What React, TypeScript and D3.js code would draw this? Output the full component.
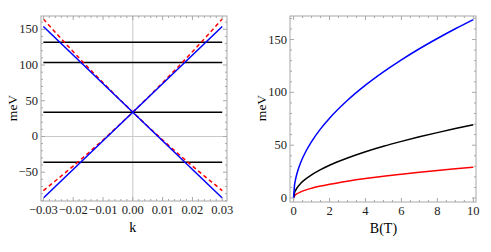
import React from 'react';
import * as d3 from 'd3';

// left panel: dispersion vs k
const kEnds = [-0.03, 0.03];
const blueDown = [154, -86];
const blueUp = [-86, 154];
const kRed = [-0.03, -0.025, -0.02, -0.015, -0.01, -0.005, 0, 0.005, 0.01, 0.015, 0.02, 0.025, 0.03];
const redDown = [164.4, 141.2, 118.6, 96.6, 75.2, 54.3, 34, 14.3, -4.9, -23.4, -41.4, -58.8, -75.7];
const redUp = [-75.7, -58.8, -41.4, -23.4, -4.9, 14.3, 34, 54.3, 75.2, 96.6, 118.6, 141.2, 164.4];
const levels = [132, 103.5, 34, -36];
const kTicks = [-0.03, -0.02, -0.01, 0, 0.01, 0.02, 0.03];
const eTicksLeft = [-50, 0, 50, 100, 150];

// right panel: levels vs B
const bVals = [0, 0.05, 0.1, 0.2, 0.4, 0.7, 1, 1.5, 2, 3, 4, 5, 6, 7, 8, 9, 10];
const blueB = [0, 11.9, 16.9, 23.9, 33.8, 44.7, 53.4, 65.4, 75.5, 92.5, 106.8, 119.4, 130.8, 141.3, 151.0, 160.2, 168.9];
const blackB = [0, 4.9, 6.9, 9.8, 13.9, 18.3, 21.9, 26.8, 31.0, 37.9, 43.8, 49.0, 53.6, 57.9, 61.9, 65.7, 69.3];
const redB = [0, 2.1, 2.9, 4.1, 5.8, 7.7, 9.2, 11.3, 13.0, 15.9, 18.4, 20.6, 22.5, 24.3, 26.0, 27.6, 29.1];
const bTicks = [0, 2, 4, 6, 8, 10];
const eTicksRight = [0, 50, 100, 150];

const font = 'Liberation Serif, serif';
const frameColor = '#a8a8a8';

const fmtK = (d: number) => (d < 0 ? '\u2212' : '') + Math.abs(d).toFixed(2);
const fmtE = (d: number) => (d < 0 ? '\u2212' : '') + Math.abs(d);

type Scale = d3.ScaleLinear<number, number>;

const Frame = ({ x, y, xTicks, xMinor, yTicks, yMinor, xFmt, yFmt }: {
  x: Scale; y: Scale; xTicks: number[]; xMinor: number[]; yTicks: number[]; yMinor: number[];
  xFmt: (d: number) => string; yFmt: (d: number) => string;
}) => {
  const [x0, x1] = x.range();
  const [y0, y1] = y.range(); // y0 bottom, y1 top
  const maj = 4;
  const min = 2;
  return (
    <g>
      <rect x={x0} y={y1} width={x1 - x0} height={y0 - y1} fill='none' stroke={frameColor} strokeWidth={1} />
      {xTicks.map(d => (
        <g key={`xt-${d}`}>
          <line x1={x(d)} x2={x(d)} y1={y0} y2={y0 - maj} stroke={frameColor} />
          <line x1={x(d)} x2={x(d)} y1={y1} y2={y1 + maj} stroke={frameColor} />
          <text x={x(d)} y={y0 + 13} textAnchor='middle' fontSize={12.5} fontFamily={font} fill='#222'>{xFmt(d)}</text>
        </g>
      ))}
      {xMinor.map((d, i) => (
        <g key={`xm-${i}`}>
          <line x1={x(d)} x2={x(d)} y1={y0} y2={y0 - min} stroke={frameColor} />
          <line x1={x(d)} x2={x(d)} y1={y1} y2={y1 + min} stroke={frameColor} />
        </g>
      ))}
      {yTicks.map(d => (
        <g key={`yt-${d}`}>
          <line x1={x0} x2={x0 + maj} y1={y(d)} y2={y(d)} stroke={frameColor} />
          <line x1={x1} x2={x1 - maj} y1={y(d)} y2={y(d)} stroke={frameColor} />
          <text x={x0 - 3} y={y(d) + 4} textAnchor='end' fontSize={12.5} fontFamily={font} fill='#222'>{yFmt(d)}</text>
        </g>
      ))}
      {yMinor.map((d, i) => (
        <g key={`ym-${i}`}>
          <line x1={x0} x2={x0 + min} y1={y(d)} y2={y(d)} stroke={frameColor} />
          <line x1={x1} x2={x1 - min} y1={y(d)} y2={y(d)} stroke={frameColor} />
        </g>
      ))}
    </g>
  );
};

const App = () => {
  const width = 491;
  const height = 252;

  const xL = d3.scaleLinear().domain([-0.0308, 0.0316]).range([41, 227]);
  const yL = d3.scaleLinear().domain([-90.3, 168.6]).range([201, 16]);
  const xR = d3.scaleLinear().domain([-0.2, 10.15]).range([290, 476]);
  const yR = d3.scaleLinear().domain([-3.8, 172.3]).range([202, 16]);

  const lineL = d3.line<[number, number]>().x(d => xL(d[0])).y(d => yL(d[1]));
  const lineR = d3.line<[number, number]>().x(d => xR(d[0])).y(d => yR(d[1])).curve(d3.curveMonotoneX);

  const zip = (a: number[], b: number[]) => a.map((v, i) => [v, b[i]] as [number, number]);

  const kMinor = d3.range(-30, 32, 2).filter(v => v % 10 !== 0).map(v => v / 1000);
  const eMinorL = d3.range(-90, 170, 10).filter(v => v % 50 !== 0);
  const bMinor = d3.range(0, 10.5, 0.5).filter(v => v % 2 !== 0);
  const eMinorR = d3.range(0, 175, 10).filter(v => v % 50 !== 0);

  return (
    <svg width={width} height={height} style={{ position: 'absolute', left: 0, top: 0 }}>
      <rect width={width} height={height} fill='white' />
      {/* left panel */}
      <line x1={xL(0)} x2={xL(0)} y1={yL.range()[0]} y2={yL.range()[1]} stroke='#c8c8c8' />
      <line x1={xL.range()[0]} x2={xL.range()[1]} y1={yL(0)} y2={yL(0)} stroke='#c8c8c8' />
      {levels.map(v => (
        <line key={`lv-${v}`} x1={xL(kEnds[0])} x2={xL(kEnds[1])} y1={yL(v)} y2={yL(v)} stroke='black' strokeWidth={1.5} />
      ))}
      <path d={lineL(zip(kRed, redDown)) || ''} fill='none' stroke='red' strokeWidth={1.5} strokeDasharray='4,3' />
      <path d={lineL(zip(kRed, redUp)) || ''} fill='none' stroke='red' strokeWidth={1.5} strokeDasharray='4,3' />
      <path d={lineL(zip(kEnds, blueDown)) || ''} fill='none' stroke='blue' strokeWidth={1.5} />
      <path d={lineL(zip(kEnds, blueUp)) || ''} fill='none' stroke='blue' strokeWidth={1.5} />
      <Frame x={xL} y={yL} xTicks={kTicks} xMinor={kMinor} yTicks={eTicksLeft} yMinor={eMinorL} xFmt={fmtK} yFmt={fmtE} />
      <text x={xL(0)} y={232} textAnchor='middle' fontSize={14} fontFamily={font}>k</text>
      <text transform='translate(17,108) rotate(-90)' textAnchor='middle' fontSize={13.5} fontFamily={font}>meV</text>

      {/* right panel */}
      <path d={lineR(zip(bVals, redB)) || ''} fill='none' stroke='red' strokeWidth={1.5} />
      <path d={lineR(zip(bVals, blackB)) || ''} fill='none' stroke='black' strokeWidth={1.5} />
      <path d={lineR(zip(bVals, blueB)) || ''} fill='none' stroke='blue' strokeWidth={1.5} />
      <Frame x={xR} y={yR} xTicks={bTicks} xMinor={bMinor} yTicks={eTicksRight} yMinor={eMinorR} xFmt={d => String(d)} yFmt={fmtE} />
      <text x={xR(5)} y={233} textAnchor='middle' fontSize={14} fontFamily={font}>B(T)</text>
      <text transform='translate(266,108) rotate(-90)' textAnchor='middle' fontSize={13.5} fontFamily={font}>meV</text>
    </svg>
  );
};

export default App;
